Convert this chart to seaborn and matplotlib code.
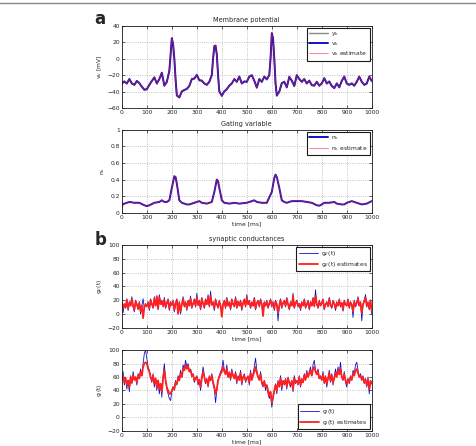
"""
Membrane potential, gating variable and synaptic conductance estimates
(MATLAB style, four stacked panels)
"""

# %% Imports
import numpy as np
import seaborn as sns
from matplotlib import pyplot as plt
from matplotlib.lines import Line2D

# %% Data
t_v = [0, 10, 20, 30, 40, 50, 60, 70, 80, 90, 100, 110, 120, 130, 140, 150, 160, 170, 180, 190,
       195, 200, 205, 210, 215, 220, 230, 240, 250, 260, 270, 280, 290, 300, 310, 320, 330, 340,
       350, 360, 365, 370, 375, 380, 385, 390, 400, 410, 420, 430, 440, 450, 460, 470, 480, 490,
       500, 510, 520, 530, 540, 550, 560, 570, 580, 590, 595, 600, 605, 610, 615, 620, 630, 640,
       650, 660, 670, 680, 690, 700, 710, 720, 730, 740, 750, 760, 770, 780, 790, 800, 810, 820,
       830, 840, 850, 860, 870, 880, 890, 900, 910, 920, 930, 940, 950, 960, 970, 980, 990, 1000]
v_true = [-30, -28, -30, -25, -30, -32, -27, -30, -34, -38, -37, -32, -27, -23, -30, -25, -17,
          -33, -28, -15, 5, 25, 18, 0, -25, -45, -47, -40, -38, -37, -33, -25, -24, -20, -26, -27,
          -30, -32, -28, -20, 0, 15, 16, 5, -20, -40, -45, -40, -37, -33, -30, -25, -28, -22, -30,
          -28, -28, -22, -20, -27, -35, -25, -28, -22, -25, -20, 0, 31, 25, 0, -30, -45, -40, -30,
          -28, -35, -22, -27, -33, -20, -25, -28, -25, -30, -27, -32, -33, -28, -33, -30, -24, -30,
          -28, -33, -36, -30, -35, -27, -22, -30, -32, -30, -33, -28, -22, -28, -32, -30, -22, -27]
v_obs = [-31, -27, -31, -24, -31, -31, -28, -29, -35, -37, -38, -31, -28, -22, -31, -24, -18,
         -32, -29, -14, 4, 25, 17, 1, -26, -44, -48, -39, -39, -36, -34, -24, -25, -19, -27, -26,
         -31, -31, -29, -19, -1, 16, 15, 6, -21, -39, -46, -39, -38, -32, -31, -24, -29, -21, -31,
         -27, -29, -21, -21, -26, -36, -24, -29, -21, -26, -19, 1, 32, 24, 1, -31, -44, -41, -29,
         -29, -34, -23, -26, -34, -21, -24, -29, -24, -31, -26, -33, -32, -29, -32, -31, -23, -31,
         -27, -34, -35, -31, -34, -28, -21, -31, -31, -31, -32, -29, -21, -29, -31, -31, -21, -28]

t_n = [0, 10, 20, 30, 50, 70, 90, 100, 110, 130, 150, 160, 170, 180, 190, 200, 210, 215, 220,
       230, 240, 260, 270, 280, 300, 310, 320, 340, 360, 370, 380, 385, 390, 400, 410, 430, 450,
       470, 500, 520, 530, 540, 560, 580, 600, 610, 615, 620, 630, 640, 650, 660, 680, 700, 720,
       740, 760, 780, 790, 800, 810, 830, 850, 860, 880, 890, 900, 920, 940, 960, 980, 1000]
n_true = [0.10, 0.11, 0.12, 0.13, 0.12, 0.12, 0.09, 0.08, 0.09, 0.12, 0.13, 0.15, 0.13, 0.13,
          0.15, 0.30, 0.44, 0.43, 0.35, 0.15, 0.12, 0.10, 0.10, 0.11, 0.13, 0.14, 0.12, 0.11,
          0.13, 0.25, 0.40, 0.38, 0.30, 0.15, 0.12, 0.11, 0.12, 0.11, 0.12, 0.14, 0.15, 0.13,
          0.12, 0.12, 0.25, 0.42, 0.46, 0.43, 0.30, 0.15, 0.13, 0.12, 0.14, 0.14, 0.14, 0.13,
          0.12, 0.09, 0.085, 0.10, 0.12, 0.12, 0.13, 0.11, 0.10, 0.10, 0.12, 0.14, 0.12, 0.10,
          0.11, 0.14]
n_est = [0.05, 0.11, 0.12, 0.13, 0.12, 0.12, 0.09, 0.08, 0.09, 0.12, 0.13, 0.15, 0.13, 0.13,
         0.15, 0.30, 0.44, 0.43, 0.35, 0.15, 0.12, 0.10, 0.10, 0.11, 0.13, 0.14, 0.12, 0.11,
         0.13, 0.25, 0.40, 0.38, 0.30, 0.15, 0.12, 0.11, 0.12, 0.11, 0.12, 0.14, 0.15, 0.13,
         0.12, 0.12, 0.25, 0.42, 0.46, 0.43, 0.30, 0.15, 0.13, 0.12, 0.14, 0.14, 0.14, 0.13,
         0.12, 0.09, 0.085, 0.10, 0.12, 0.12, 0.13, 0.11, 0.10, 0.10, 0.12, 0.14, 0.12, 0.10,
         0.11, 0.14]

# conductances sampled every 5 ms, 0..1000
t_g = list(range(0, 1001, 5))
ge_true = [20, 2, 15, 8, 22, 5, 18, 12, 25, 10, 3, 20, 14, 6, 18, 0, 12, 22, 8, 15,
           10, 18, 5, 22, 14, 8, 25, 12, 18, 6, 28, 15, 20, 10, 24, 8, 16, 22, 5, 18,
           12, 20, 3, 15, 22, 8, 18, 0, 14, 25, 10, 18, 5, 20, 12, 26, 8, 15, 22, 10,
           30, 12, 20, 6, 24, 15, 8, 22, 14, 28, 10, 33, 12, 18, 5, 22, 14, 8, 20, 12,
           2, 15, 20, 8, 24, 12, 18, 6, 22, 14, 10, 25, 8, 18, 12, 20, 5, 16, 22, 10,
           28, 14, 20, 8, 18, 12, 24, 6, 16, 20, 10, 22, 14, 4, 18, 12, 20, 8, 15, 22,
           10, 18, 5, 20, 14, -10, 12, 22, 8, 16, 20, 10, 24, 14, 6, 18, 12, 30, 8, 16,
           20, 10, 15, 5, 18, 12, 22, 8, 14, 20, 6, 18, 12, 24, 10, 35, 14, 8, 20, 12,
           16, 22, 6, 14, 18, 10, 24, 12, 8, 20, 15, 5, 18, 12, 22, 10, 16, 4, 20, 14,
           12, 22, 8, 18, 14, -5, 20, 10, 16, 25, 12, 18, -10, 14, 20, 28, 10, 18, 6, 20, 0]
ge_est = [18, 8, 14, 10, 20, 8, 16, 12, 22, 12, 6, 18, 14, 8, 16, 4, 12, -6, 10, 14,
          12, 16, 8, 20, 14, 10, 22, 12, 26, 8, 24, 14, 18, 12, 20, 10, 16, 20, 8, 16,
          14, 18, 6, 15, 20, 0, 16, 4, 14, 22, 12, 16, 8, 18, 12, 22, 10, 15, 20, 12,
          24, 14, 18, 8, 22, 15, 10, 20, 14, 24, 12, 26, 14, 16, 8, 20, 14, 10, 18, 12,
          -4, 14, 18, 10, 22, 12, 16, 8, 20, 14, 12, 22, 10, 18, 12, 18, 8, 16, 20, 12,
          24, 14, 18, 10, 16, 12, 22, 8, 16, 18, 12, 20, 14, -3, 16, 12, 18, 10, 15, 20,
          12, 16, 8, 18, 14, 2, 12, 20, 10, 16, 18, 12, 22, 14, 8, 16, 12, 26, 10, 16,
          18, 12, 15, 8, 16, 12, 20, 10, 14, 18, 8, 16, 12, 22, 12, 26, 14, 10, 18, 12,
          16, 20, 8, 14, 16, 12, 22, 12, 10, 18, 15, 8, 16, 12, 20, 12, 16, 6, 18, 14,
          12, 20, 10, 16, 14, 4, 18, 12, 16, 22, 12, 16, 2, 14, 18, 24, 12, 16, 8, 20, 4]
gi_true = [55, 68, 48, 60, 42, 55, 38, 62, 50, 68, 55, 60, 48, 65, 58, 72, 62, 80, 95, 100,
           88, 75, 70, 60, 52, 65, 45, 58, 40, 55, 35, 50, 30, 62, 80, 55, 42, 35, 28, 25,
           38, 45, 40, 55, 48, 62, 55, 70, 60, 78, 72, 85, 75, 80, 68, 72, 60, 65, 52, 58,
           62, 48, 55, 40, 60, 75, 62, 50, 58, 45, 62, 55, 65, 50, 42, 22, 40, 55, 62, 68,
           72, 85, 70, 65, 78, 60, 68, 55, 72, 62, 58, 68, 50, 62, 55, 70, 48, 60, 65, 52,
           58, 62, 48, 70, 55, 65, 75, 88, 70, 60, 55, 68, 50, 45, 55, 40, 48, 35, 28, 38,
           15, 28, 40, 50, 35, 55, 45, 62, 40, 55, 48, 58, 42, 60, 50, 45, 55, 38, 62, 50,
           55, 48, 62, 45, 58, 52, 65, 55, 70, 60, 68, 75, 62, 78, 85, 70, 65, 72, 58, 62,
           55, 68, 50, 62, 45, 58, 70, 52, 65, 48, 60, 72, 62, 75, 65, 82, 60, 55, 68, 52,
           45, 58, 50, 62, 55, 70, 65, 78, 82, 70, 60, 65, 55, 62, 50, 58, 45, 60, 35, 55, 50]
gi_est = [58, 62, 52, 58, 48, 55, 45, 60, 52, 62, 56, 60, 52, 62, 58, 68, 62, 75, 80, 82,
          80, 72, 68, 60, 55, 62, 50, 58, 45, 55, 42, 50, 38, 58, 70, 55, 45, 40, 35, 35,
          40, 45, 42, 52, 50, 58, 55, 65, 60, 72, 70, 78, 72, 76, 68, 70, 62, 64, 55, 58,
          60, 52, 56, 45, 58, 68, 60, 52, 56, 48, 60, 55, 62, 52, 45, 35, 42, 55, 60, 65,
          68, 75, 68, 64, 72, 60, 66, 58, 68, 62, 58, 65, 54, 60, 56, 66, 52, 60, 62, 55,
          58, 60, 52, 66, 56, 62, 68, 75, 66, 60, 56, 64, 52, 48, 54, 45, 48, 40, 32, 38,
          22, 30, 40, 48, 40, 52, 46, 58, 45, 54, 50, 56, 46, 58, 52, 48, 54, 42, 58, 52,
          54, 50, 60, 48, 56, 52, 62, 56, 66, 60, 65, 70, 62, 72, 75, 68, 64, 68, 58, 60,
          56, 64, 52, 60, 50, 58, 66, 54, 62, 52, 58, 66, 60, 70, 64, 72, 60, 56, 64, 55,
          50, 56, 52, 60, 56, 65, 62, 70, 72, 66, 60, 62, 56, 60, 52, 56, 48, 56, 42, 54, 50]

# %% Style
sns.set_theme(style="white")
plt.rcParams["font.family"] = ["DejaVu Sans"]
plt.rcParams["mathtext.fontset"] = "dejavusans"
FS = 4.3
BLUE = "#1010c8"
RED = "#ff2020"


def style_axes(ax, ylim, yticks, title, ylabel, xlabel=None):
    ax.set_xlim(0, 1000)
    ax.set_ylim(*ylim)
    ax.set_xticks(np.arange(0, 1001, 100))
    ax.set_yticks(yticks)
    ax.grid(True, linestyle=":", color="#b0b0b0", linewidth=0.6)
    ax.tick_params(direction="in", length=2, width=0.5, labelsize=FS, pad=1.5,
                   top=True, right=True, bottom=True, left=True)
    for s in ax.spines.values():
        s.set_visible(True)
        s.set_color("k")
        s.set_linewidth(0.6)
    ax.set_title(title, fontsize=FS + 0.4, pad=3)
    ax.set_ylabel(ylabel, fontsize=FS, labelpad=2)
    ax.set_xlabel(xlabel if xlabel else "", fontsize=FS, labelpad=1)


def add_legend(ax, loc):
    leg = ax.legend(loc=loc, fontsize=FS, frameon=True, fancybox=False, borderpad=0.4,
                    handlelength=3.2, labelspacing=0.3, handletextpad=0.5, borderaxespad=0.3)
    leg.get_frame().set_edgecolor("k")
    leg.get_frame().set_linewidth(0.8)
    leg.get_frame().set_alpha(1)


# %% Figure
fig = plt.figure(figsize=(4.76, 4.46), dpi=100)
L, W = 0.256, 0.525
ax1 = fig.add_axes([L, 0.758, W, 0.184])
ax2 = fig.add_axes([L, 0.523, W, 0.186])
ax3 = fig.add_axes([L, 0.265, W, 0.186])
ax4 = fig.add_axes([L, 0.034, W, 0.181])

# membrane potential
sns.lineplot(x=t_v, y=v_obs, color="#8a8a8a", linewidth=1.0, label="y$_k$", ax=ax1)
sns.lineplot(x=t_v, y=v_true, color=BLUE, linewidth=1.4, label="v$_k$", ax=ax1)
sns.lineplot(x=t_v, y=v_true, color=RED, linewidth=0.7, alpha=0.55, label="v$_k$ estimate", ax=ax1)
style_axes(ax1, (-60, 40), np.arange(-60, 41, 20), "Membrane potential", "v$_k$ [mV]")
add_legend(ax1, "upper right")

# gating variable
sns.lineplot(x=t_n, y=n_true, color=BLUE, linewidth=1.4, label="n$_k$", ax=ax2)
sns.lineplot(x=t_n, y=n_est, color=RED, linewidth=0.7, alpha=0.55, label="n$_k$ estimate", ax=ax2)
style_axes(ax2, (0, 1), np.arange(0, 1.01, 0.2), "Gating variable", "n$_k$", "time [ms]")
ax2.set_yticklabels(["0", "0.2", "0.4", "0.6", "0.8", "1"])
add_legend(ax2, "upper right")

# excitatory conductance
sns.lineplot(x=t_g, y=ge_true, color=BLUE, linewidth=0.6, label="g$_E$(t)", ax=ax3)
sns.lineplot(x=t_g, y=ge_est, color=RED, linewidth=1.3, label="g$_E$(t) estimates", ax=ax3)
style_axes(ax3, (-20, 100), np.arange(-20, 101, 20), "synaptic conductances", "g$_E$(t)", "time [ms]")
add_legend(ax3, "upper right")

# inhibitory conductance
sns.lineplot(x=t_g, y=gi_true, color=BLUE, linewidth=0.6, label="g$_I$(t)", ax=ax4)
sns.lineplot(x=t_g, y=gi_est, color=RED, linewidth=1.3, label="g$_I$(t) estimates", ax=ax4)
style_axes(ax4, (-20, 100), np.arange(-20, 101, 20), "", "g$_I$(t)", "time [ms]")
add_legend(ax4, "lower right")

# panel letters and top rule
fig.text(100 / 476, 1 - 19 / 446, "a", fontsize=12, fontweight="bold", ha="center", va="center")
fig.text(101 / 476, 1 - 240 / 446, "b", fontsize=12, fontweight="bold", ha="center", va="center")
fig.add_artist(Line2D([0, 1], [1 - 3 / 446, 1 - 3 / 446], color="#888888", linewidth=1.0))

fig.savefig("out.png", dpi=100, facecolor="white")
